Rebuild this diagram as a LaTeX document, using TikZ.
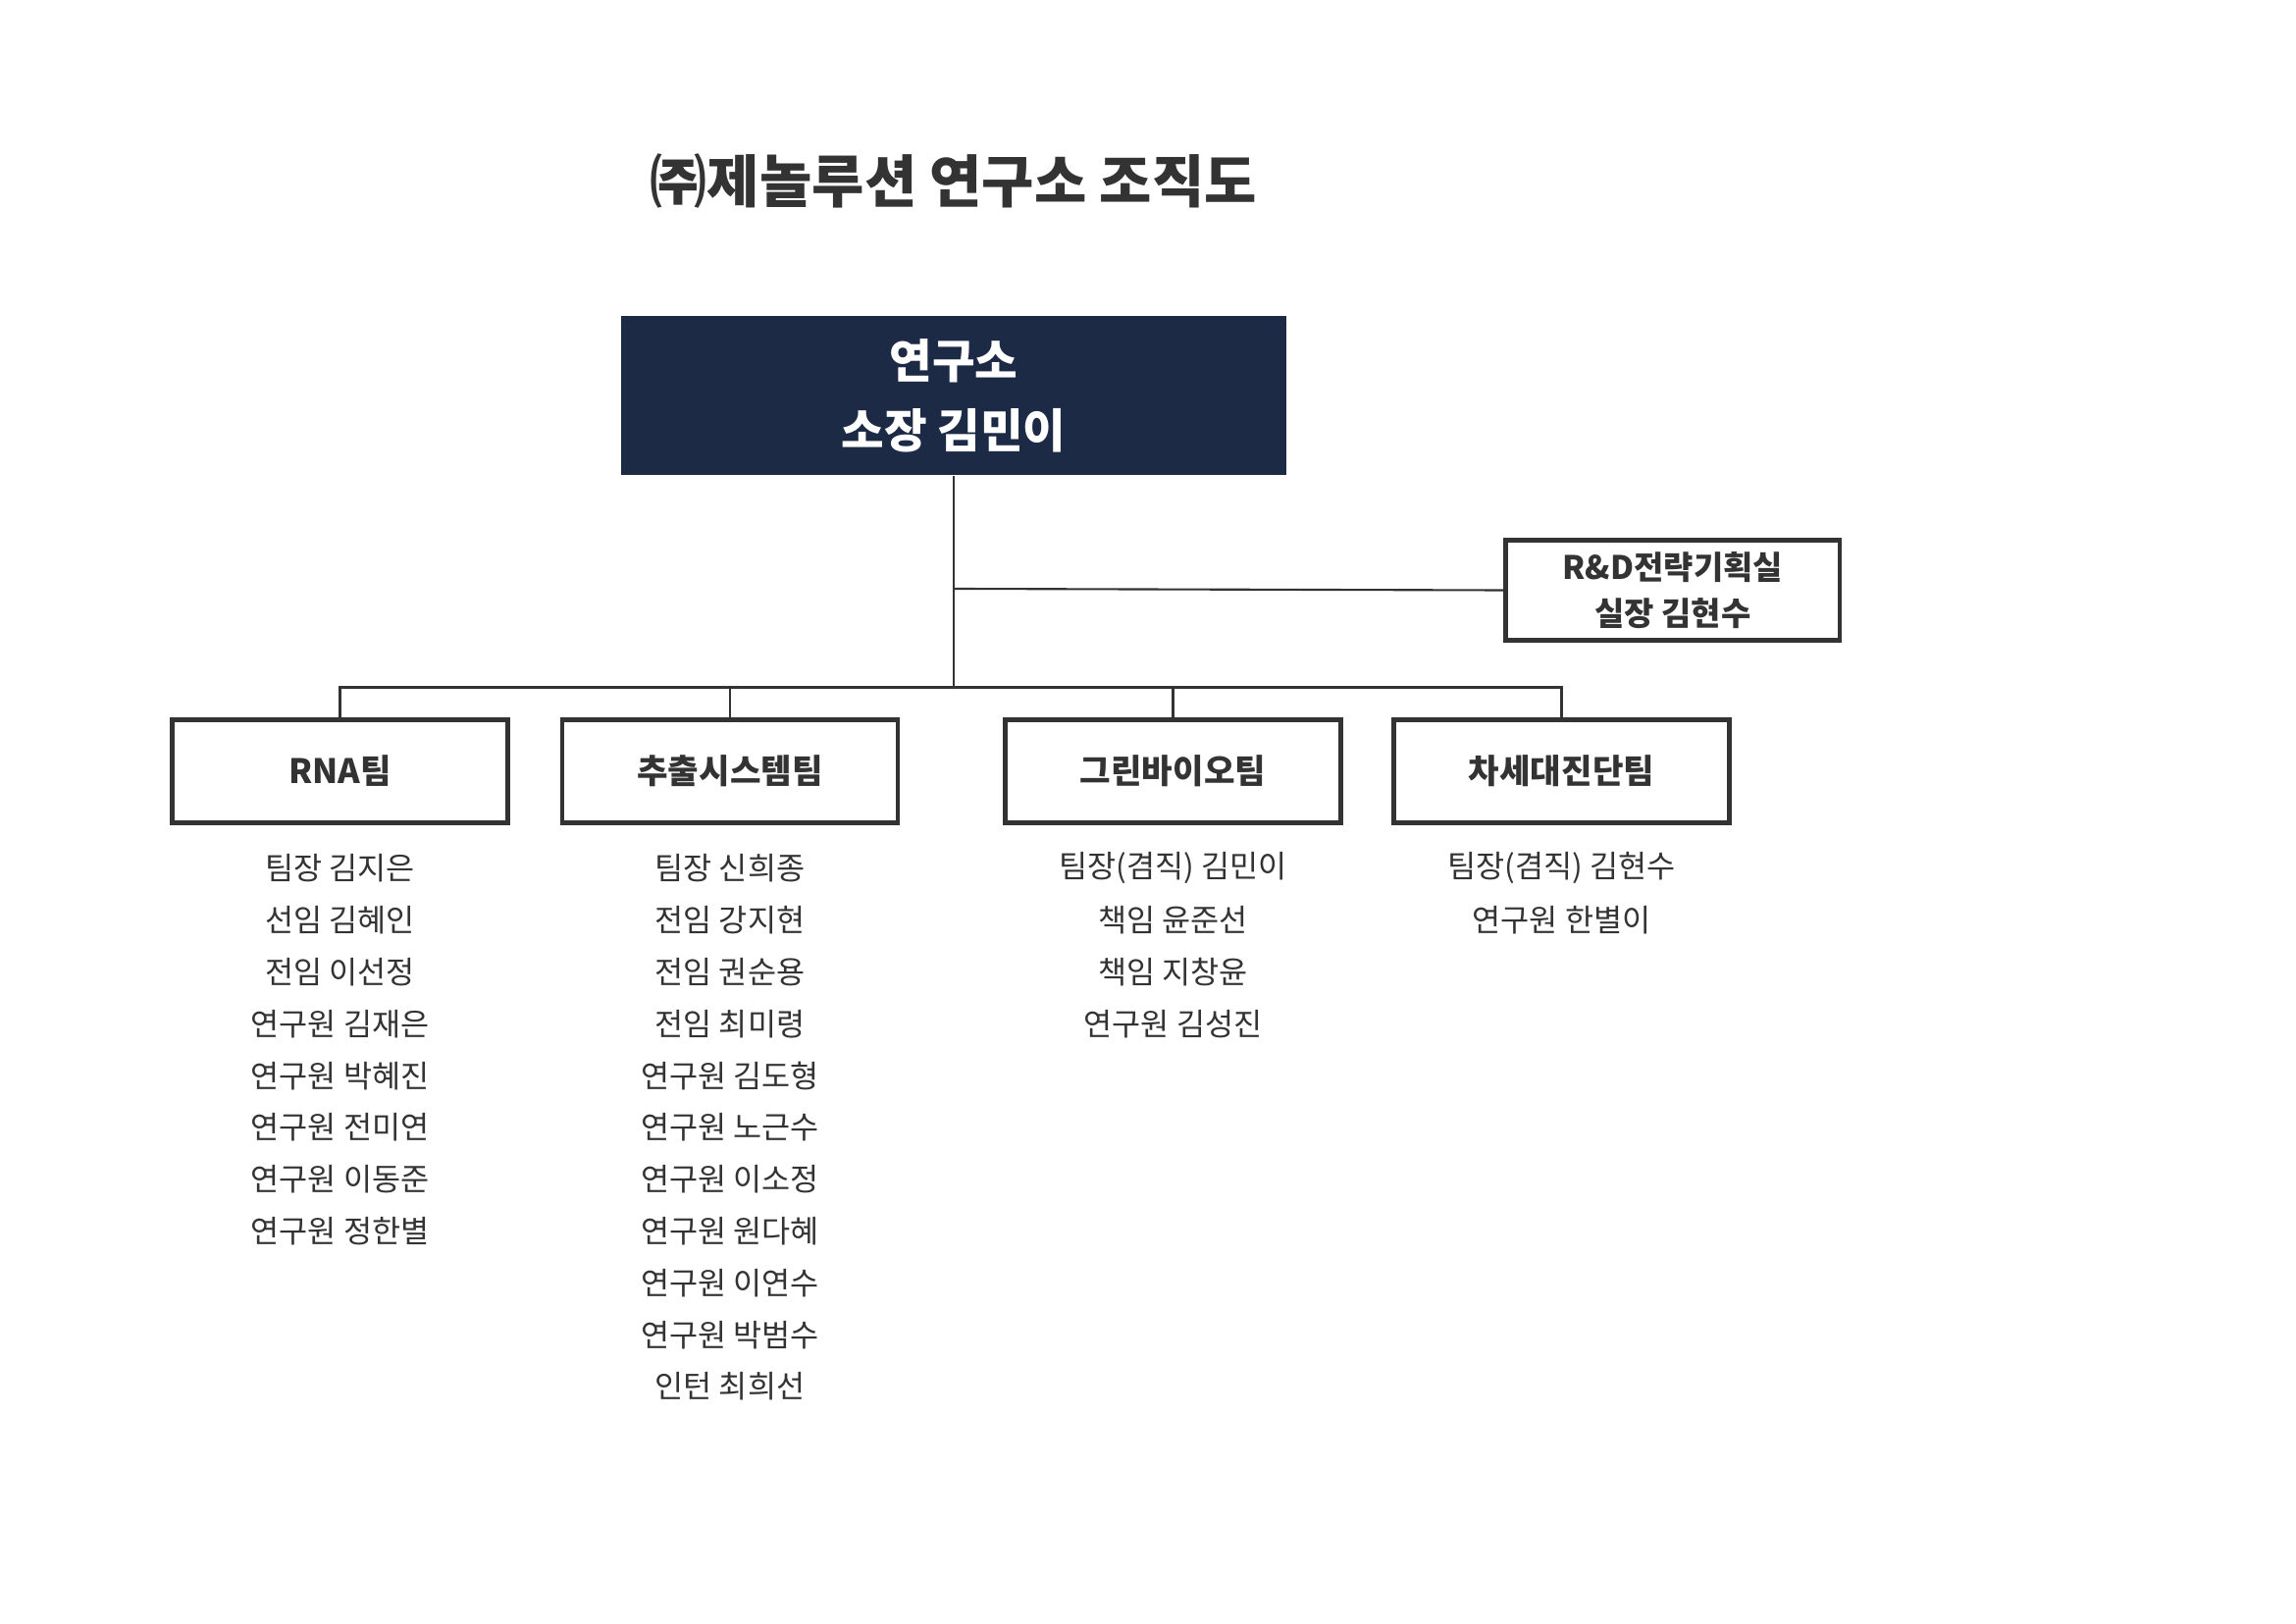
\documentclass[tikz,border=0pt]{standalone}
\usepackage{fontspec}
\setmainfont{Noto Sans CJK KR}
\definecolor{navy}{HTML}{1C2A45}
\definecolor{txt}{HTML}{333333}
\begin{document}
\begin{tikzpicture}[x=0.2mm,y=-0.2mm,
  team/.style={draw=txt,line width=1.7pt,minimum width=45.6mm,minimum height=14mm,font=\fontsize{13}{15}\selectfont\bfseries,text=txt},
  mem/.style={font=\fontsize{12}{14}\selectfont,text=txt,anchor=center},
  conn/.style={draw=txt,line width=0.8pt}]
\useasboundingbox (0,0) rectangle (1560,1103);
\node[font=\fontsize{22}{26}\selectfont\bfseries,text=txt] (title) at (648,123) {㈜제놀루션 연구소 조직도};
\node[fill=navy,minimum width=90.4mm,minimum height=21.6mm,text=white,font=\fontsize{18}{27}\selectfont\bfseries,align=center] (top) at (648,269) {연구소\\소장 김민이};
\node[draw=txt,line width=1.7pt,minimum width=45.4mm,minimum height=13.6mm,text=txt,font=\fontsize{12.5}{18}\selectfont\bfseries,align=center] (rd) at (1136.5,401) {R\&D전략기획실\\실장 김현수};
\node[team] (t1) at (231,524) {RNA팀};
\node[team] (t2) at (496,524) {추출시스템팀};
\node[team] (t3) at (797,524) {그린바이오팀};
\node[team] (t4) at (1061,524) {차세대진단팀};
\coordinate (j) at (648,467);
\coordinate (r) at (648,400);
\draw[conn] (top.south) -- (j);
\draw[conn] (r) -- (rd.west);
\draw[conn] (t1.north) |- (j) -| (t4.north);
\draw[conn] (t2.north) -- (t2.north |- j);
\draw[conn] (t3.north) -- (t3.north |- j);
\foreach \x/\list in {231/{팀장 김지은,선임 김혜인,전임 이선정,연구원 김재은,연구원 박혜진,연구원 전미연,연구원 이동준,연구원 정한별},
  496/{팀장 신희종,전임 강지현,전임 권순용,전임 최미령,연구원 김도형,연구원 노근수,연구원 이소정,연구원 원다혜,연구원 이연수,연구원 박범수,인턴 최희선},
  797/{팀장(겸직) 김민이,책임 윤준선,책임 지창윤,연구원 김성진},
  1061/{팀장(겸직) 김현수,연구원 한별이}}{
  \foreach \n [count=\i from 0] in \list {
    \node[mem] (m-\x-\i) at (\x,590+35.2*\i) {\n};
  }
}
\end{tikzpicture}
\end{document}
